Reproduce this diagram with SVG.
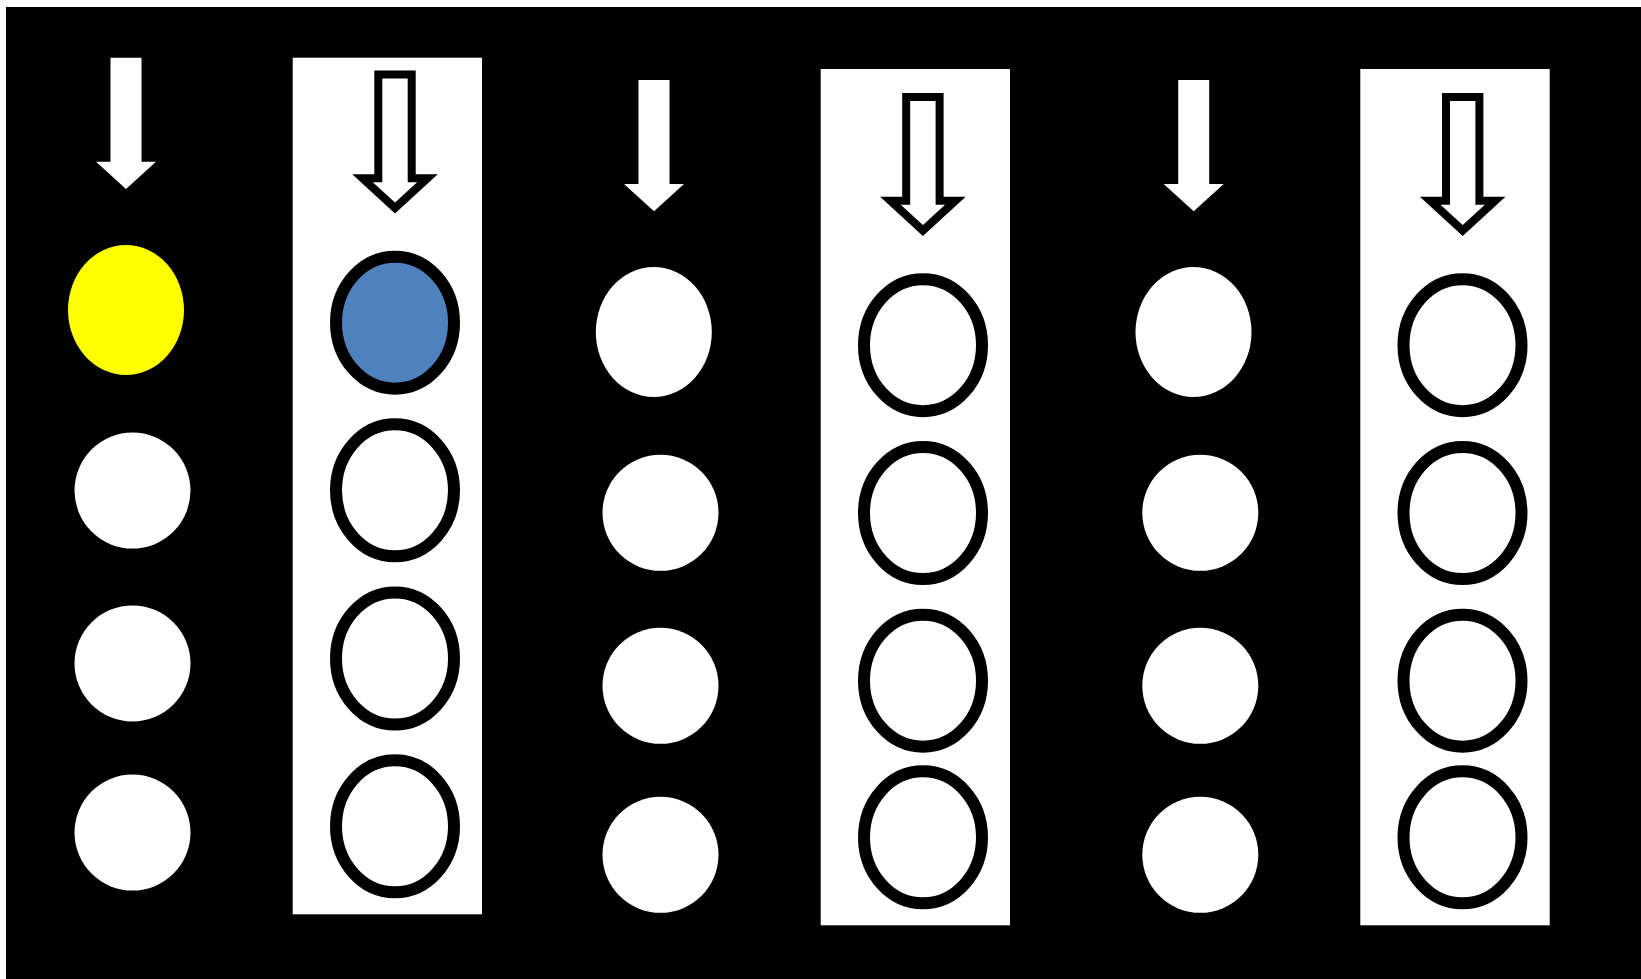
<svg xmlns="http://www.w3.org/2000/svg" width="1641" height="979" viewBox="0 0 1641 979">
<style>
.panel{fill:#ffffff}
.dot{fill:#ffffff}
.ring{fill:#ffffff;stroke:#000000;stroke-width:12}
.solid{fill:#ffffff}
.hollow{fill:#ffffff;stroke:#000000;stroke-width:8;stroke-linejoin:miter;stroke-miterlimit:10}
</style>
<defs>
<path id="solidArrow" class="solid" d="M-15.5,0 H15.5 V104 H30 L0,131.3 L-30,104 H-15.5 Z"/>
<path id="hollowArrow" class="hollow" d="M-16.7,0 H16.7 V103.8 H32.5 L0,133.5 L-32.5,103.8 H-16.7 Z"/>
</defs>
<rect x="0" y="0" width="1641" height="979" fill="#ffffff"/>
<rect id="background" x="6" y="7" width="1635" height="972" fill="#000000"/>
<g id="panels">
<rect id="panel-2" class="panel" x="292.7" y="57.7" width="189.3" height="856.6"/>
<rect id="panel-4" class="panel" x="820.7" y="69" width="189.3" height="856.3"/>
<rect id="panel-6" class="panel" x="1360.3" y="69" width="189.4" height="856.3"/>
</g>
<g id="connectors">
<use href="#solidArrow" x="126" y="57.7"/>
<use href="#hollowArrow" x="395" y="74.5"/>
<use href="#solidArrow" x="654" y="80"/>
<use href="#hollowArrow" x="922.9" y="97"/>
<use href="#solidArrow" x="1193.7" y="80"/>
<use href="#hollowArrow" x="1462.7" y="97"/>
</g>
<g id="column-1">
<ellipse id="c1r1" cx="126" cy="310" rx="58" ry="65" fill="#ffff00"/>
<circle id="c1r2" class="dot" cx="132.5" cy="490.6" r="58"/>
<circle id="c1r3" class="dot" cx="132.5" cy="663.4" r="58"/>
<circle id="c1r4" class="dot" cx="132.5" cy="832.6" r="58"/>
</g>
<g id="column-2">
<ellipse id="c2r1" class="ring" cx="395" cy="322.7" rx="59" ry="66" style="fill:#4f81bd"/>
<ellipse id="c2r2" class="ring" cx="395" cy="490.3" rx="59" ry="66"/>
<ellipse id="c2r3" class="ring" cx="395" cy="658.5" rx="59" ry="66"/>
<ellipse id="c2r4" class="ring" cx="395" cy="826.3" rx="59" ry="66"/>
</g>
<g id="column-3">
<ellipse id="c3r1" class="dot" cx="653.8" cy="332" rx="58" ry="65"/>
<circle id="c3r2" class="dot" cx="660.5" cy="512.8" r="58"/>
<circle id="c3r3" class="dot" cx="660.5" cy="685.8" r="58"/>
<circle id="c3r4" class="dot" cx="660.5" cy="854.8" r="58"/>
</g>
<g id="column-4">
<ellipse id="c4r1" class="ring" cx="923" cy="345.2" rx="59" ry="66"/>
<ellipse id="c4r2" class="ring" cx="923" cy="513" rx="59" ry="66"/>
<ellipse id="c4r3" class="ring" cx="923" cy="680.7" rx="59" ry="66"/>
<ellipse id="c4r4" class="ring" cx="923" cy="837.3" rx="59" ry="66"/>
</g>
<g id="column-5">
<ellipse id="c5r1" class="dot" cx="1193.5" cy="332" rx="58" ry="65"/>
<circle id="c5r2" class="dot" cx="1200.3" cy="512.8" r="58"/>
<circle id="c5r3" class="dot" cx="1200.3" cy="685.8" r="58"/>
<circle id="c5r4" class="dot" cx="1200.3" cy="854.8" r="58"/>
</g>
<g id="column-6">
<ellipse id="c6r1" class="ring" cx="1462.5" cy="345.2" rx="59" ry="66"/>
<ellipse id="c6r2" class="ring" cx="1462.5" cy="513" rx="59" ry="66"/>
<ellipse id="c6r3" class="ring" cx="1462.5" cy="680.7" rx="59" ry="66"/>
<ellipse id="c6r4" class="ring" cx="1462.5" cy="837.3" rx="59" ry="66"/>
</g>
</svg>
